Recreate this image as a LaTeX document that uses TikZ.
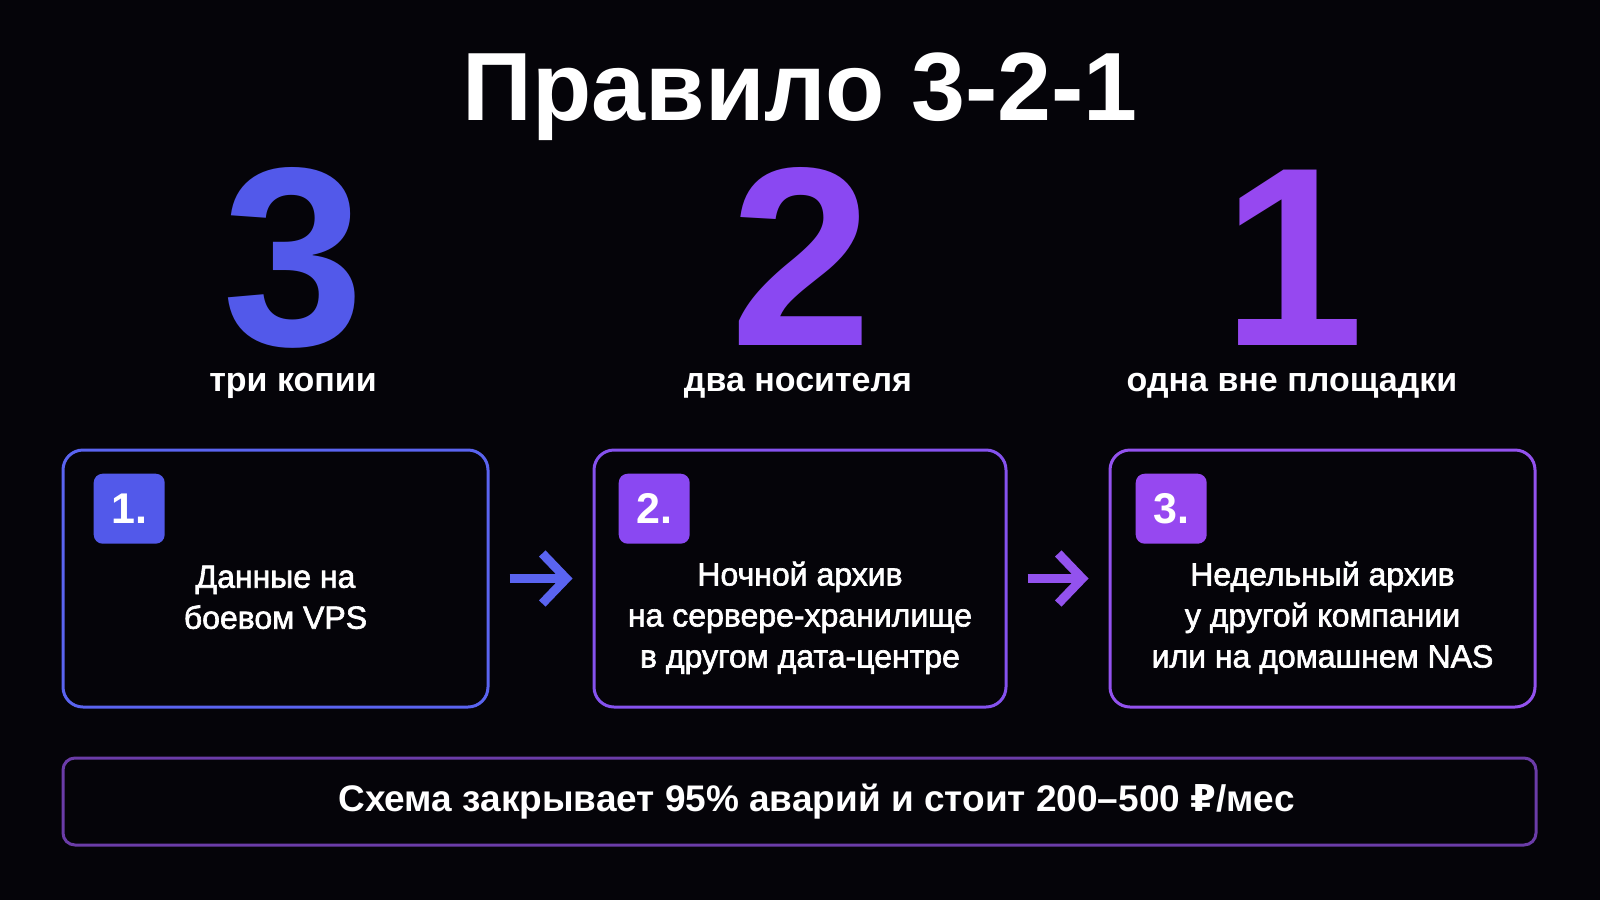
\documentclass[tikz,border=0pt]{standalone}
\usepackage{fontspec}
\setmainfont{Liberation Sans}
\newfontfamily\medfont[FakeBold=2]{Liberation Sans}
\newfontfamily\rubfont{DejaVu Sans}
\usetikzlibrary{positioning}
\usetikzlibrary{arrows.meta}
\definecolor{bgdark}{HTML}{050409}
\definecolor{ruleblue}{HTML}{5259EA}
\definecolor{rulepurple}{HTML}{8A48F2}
\definecolor{ruleviolet}{HTML}{9648F0}
\definecolor{lineblue}{HTML}{5A64F0}
\definecolor{linepurple}{HTML}{8552EE}
\definecolor{lineviolet}{HTML}{9352EE}
\definecolor{linedim}{HTML}{6B3CA8}
\tikzstyle{stepcard} = [rectangle, draw, line width=3pt, rounded corners=20pt, minimum width=425pt, minimum height=257pt]
\tikzstyle{badge} = [rectangle, rounded corners=9pt, minimum width=71pt, minimum height=70pt, inner sep=0pt, text=white, font=\fontsize{43}{43}\selectfont\bfseries]
\tikzstyle{cardtext} = [inner sep=0pt, align=center, text=white, font=\fontsize{32}{41}\selectfont\medfont]
\tikzstyle{bignum} = [inner sep=0pt, anchor=base, text depth=0pt, font=\fontsize{255}{255}\selectfont\bfseries]
\tikzstyle{caption} = [inner sep=0pt, anchor=base, text=white, font=\fontsize{34}{34}\selectfont\bfseries]
\tikzstyle{flow} = [line width=9pt, shorten <=20pt, shorten >=20pt, -{Straight Barb[length=24pt, width=50pt]}]

\begin{document}
\begin{tikzpicture}[x=1pt, y=-1pt]
            \fill[bgdark] (0,0) rectangle (1600,900);
            \useasboundingbox (0,0) rectangle (1600,900);
            \node[inner sep=0pt, anchor=base, text=white, font=\fontsize{97}{97}\selectfont\bfseries] (title) at (800,120) {Правило 3-2-1};
            % the three digits and their captions
            \node[bignum, text=ruleblue] (three) at (293,345) {3};
            \node[bignum, text=rulepurple] (two) at (801,345) {2};
            \node[bignum, text=ruleviolet] (one) at (1293,345) {1};
            \node[caption] (threecap) at (293,391) {три копии};
            \node[caption] (twocap) at (798,391) {два носителя};
            \node[caption] (onecap) at (1292,391) {одна вне площадки};
            % the three steps
            \node[stepcard, lineblue] (vps) at (275.5,578.5) {};
            \node[stepcard, linepurple, minimum width=412pt] (night) [right = 103pt of vps] {};
            \node[stepcard, lineviolet] (week) [right = 101pt of night] {};
            \node[badge, fill=ruleblue] (vpsnum) [below right = 25pt and 32pt of vps.north west] {1.};
            \node[badge, fill=rulepurple] (nightnum) [below right = 25pt and 26pt of night.north west] {2.};
            \node[badge, fill=ruleviolet] (weeknum) [below right = 25pt and 27pt of week.north west] {3.};
            \node[cardtext, anchor=north] (vpstext) [below = 117pt of vps.north] {Данные на\\боевом VPS};
            \node[cardtext, anchor=north] (nighttext) [below = 113pt of night.north] {Ночной архив\\на сервере-хранилище\\в другом дата-центре};
            \node[cardtext, anchor=north] (weektext) [below = 113pt of week.north] {Недельный архив\\у другой компании\\или на домашнем NAS};
            \draw[flow, lineblue] (vps) -- (night);
            \draw[flow, lineviolet] (night) -- (week);
            % summary line
            \node[rectangle, draw=linedim, line width=3pt, rounded corners=12pt, minimum width=1473pt, minimum height=87pt] (summary) at (799.5,801.5) {};
            \node[caption, anchor=center, xshift=17pt, font=\fontsize{37}{37}\selectfont\bfseries] (summarytext) at (summary.center) {Схема закрывает 95\% аварий и стоит 200–500 {\rubfont\bfseries ₽}/мес};
          \end{tikzpicture}
\end{document}
